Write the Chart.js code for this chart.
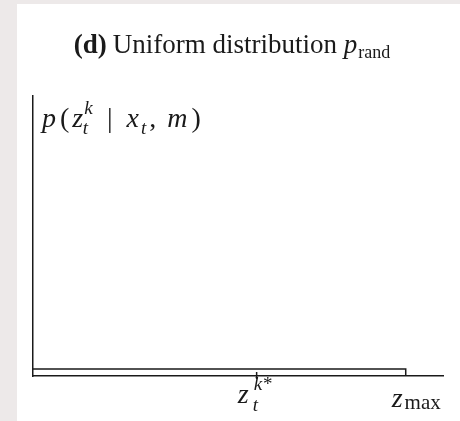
<!DOCTYPE html>
<html>
<head>
<meta charset="utf-8">
<script src="https://cdn.jsdelivr.net/npm/chart.js@4.4.1/dist/chart.umd.min.js"></script>
<style>
  html, body { margin: 0; padding: 0; background: #ede9e9; }
  #panel { position: absolute; left: 17px; top: 4px; width: 443px; height: 417px; background: #fff; }
  #wrap { position: absolute; left: 0; top: 0; width: 460px; height: 421px; }
</style>
</head>
<body>
<div id="panel"></div>
<div id="wrap"><canvas id="chart" width="460" height="421"></canvas></div>
<script>
// uniform density over [0, zMax], zero beyond it
const zMax = 10;
const zStar = 6;
const xRange = [0, 11];
const yRange = [0, 4];
const pRand = 1 / zMax;
const densityX = [0, zMax, zMax];
const densityY = [pRand, pRand, 0];

const serif = '"Liberation Serif", "DejaVu Serif", serif';

// draws a list of text runs one after another; each run may set font and vertical shift
function drawRuns(ctx, x, y, runs, align) {
    let total = 0;
    runs.forEach(r => { ctx.font = r.font; total += ctx.measureText(r.t).width + (r.gap || 0); });
    let cx = align === 'center' ? x - total / 2 : x;
    runs.forEach(r => {
        ctx.font = r.font;
        ctx.fillText(r.t, cx, y + (r.dy || 0));
        cx += ctx.measureText(r.t).width + (r.gap || 0);
    });
}

const labelsPlugin = {
    id: 'labels',
    afterDraw(chart) {
        const ctx = chart.ctx;
        const xs = chart.scales.x;
        const area = chart.chartArea;
        ctx.save();
        ctx.fillStyle = '#1a1a1a';
        ctx.textBaseline = 'alphabetic';

        // title
        drawRuns(ctx, 232, 53, [
            { t: '(d)', font: 'bold 27px ' + serif, gap: 6 },
            { t: 'Uniform distribution ', font: '27px ' + serif },
            { t: 'p', font: 'italic 27px ' + serif, gap: 1 },
            { t: 'rand', font: '18px ' + serif, dy: 5 }
        ], 'center');

        // y axis label
        drawRuns(ctx, 42, 127, [
            { t: 'p', font: 'italic 28px ' + serif, gap: 4 },
            { t: '(', font: '28px ' + serif, gap: 3 },
            { t: 'z', font: 'italic 28px ' + serif, gap: 1 },
            { t: 'k', font: 'italic 19px ' + serif, dy: -13, gap: -10 },
            { t: 't', font: 'italic 19px ' + serif, dy: 7, gap: 19 },
            { t: '|', font: '28px ' + serif, gap: 14 },
            { t: 'x', font: 'italic 28px ' + serif, gap: 2 },
            { t: 't', font: 'italic 19px ' + serif, dy: 7, gap: 3 },
            { t: ',', font: '28px ' + serif, gap: 11 },
            { t: 'm', font: 'italic 28px ' + serif, gap: 4 },
            { t: ')', font: '28px ' + serif }
        ]);

        // tick mark at z_t^{k*}
        const px = xs.getPixelForValue(zStar);
        ctx.strokeStyle = '#1a1a1a';
        ctx.lineWidth = 1.5;
        ctx.beginPath();
        ctx.moveTo(px, area.bottom - 4);
        ctx.lineTo(px, area.bottom + 3);
        ctx.stroke();

        drawRuns(ctx, px - 19, 403, [
            { t: 'z', font: 'italic 28px ' + serif }
        ]);
        drawRuns(ctx, px - 3, 390, [
            { t: 'k', font: 'italic 19px ' + serif, gap: 1 },
            { t: '*', font: '19px ' + serif }
        ]);
        drawRuns(ctx, px - 4, 411, [
            { t: 't', font: 'italic 19px ' + serif }
        ]);

        const mx = xs.getPixelForValue(zMax);
        drawRuns(ctx, mx - 14, 407, [
            { t: 'z', font: 'italic 28px ' + serif, gap: 2 },
            { t: 'max', font: '21px ' + serif, dy: 2 }
        ]);
        ctx.restore();
    }
};

new Chart(document.getElementById('chart').getContext('2d'), {
    type: 'scatter',
    data: {
        datasets: [{
            data: densityX.map((x, i) => ({ x, y: densityY[i] })),
            showLine: true,
            borderColor: '#1a1a1a',
            borderWidth: 1.5,
            pointRadius: 0,
            fill: false
        }]
    },
    options: {
        responsive: false,
        animation: false,
        layout: { padding: { left: 33, right: 17, top: 96, bottom: 45 } },
        plugins: { legend: { display: false }, tooltip: { enabled: false } },
        scales: {
            x: {
                type: 'linear', min: xRange[0], max: xRange[1],
                grid: { display: false },
                border: { display: true, color: '#1a1a1a', width: 1.5 },
                ticks: { display: false },
                afterFit: s => { s.height = 0; }
            },
            y: {
                type: 'linear', min: yRange[0], max: yRange[1],
                grid: { display: false },
                border: { display: true, color: '#1a1a1a', width: 1.5 },
                ticks: { display: false },
                afterFit: s => { s.width = 0; }
            }
        }
    },
    plugins: [labelsPlugin]
});
</script>
</body>
</html>
